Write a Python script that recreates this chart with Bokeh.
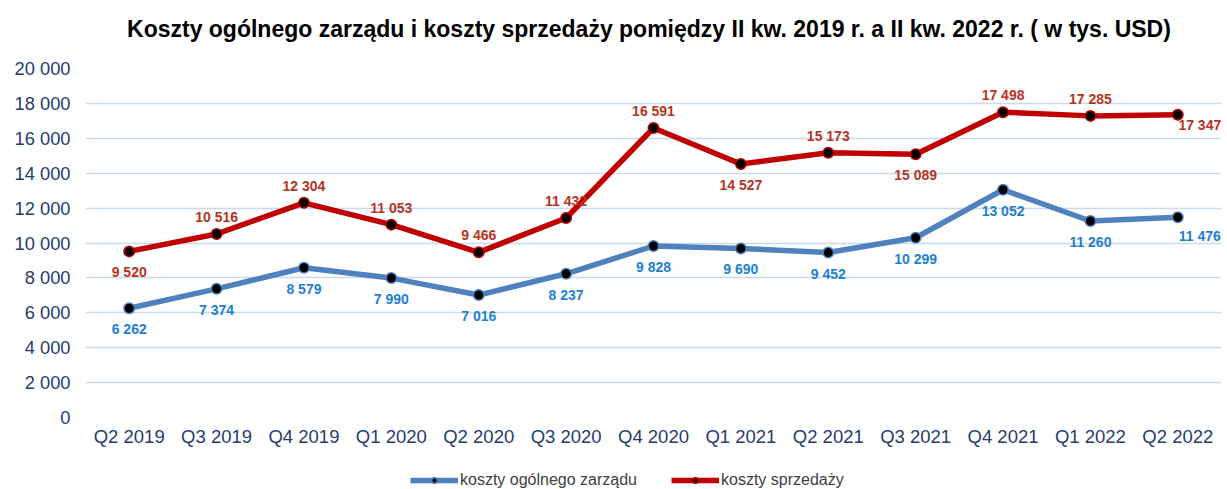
from bokeh.plotting import figure
from bokeh.models import ColumnDataSource, FactorRange, Range1d, Legend, LegendItem, FixedTicker
from bokeh.layouts import column
from bokeh.embed import file_html
from bokeh.resources import INLINE
from bokeh.core.properties import value

categories = ["Q2 2019", "Q3 2019", "Q4 2019", "Q1 2020", "Q2 2020", "Q3 2020", "Q4 2020",
              "Q1 2021", "Q2 2021", "Q3 2021", "Q4 2021", "Q1 2022", "Q2 2022"]
general_admin = [6262, 7374, 8579, 7990, 7016, 8237, 9828, 9690, 9452, 10299, 13052, 11260, 11476]
selling = [9520, 10516, 12304, 11053, 9466, 11432, 16591, 14527, 15173, 15089, 17498, 17285, 17347]
y_ticks = [0, 2000, 4000, 6000, 8000, 10000, 12000, 14000, 16000, 18000, 20000]
series_names = ["koszty ogólnego zarządu", "koszty sprzedaży"]
title_text = "Koszty ogólnego zarządu i koszty sprzedaży pomiędzy II kw. 2019 r. a II kw. 2022 r. ( w tys. USD)"

# label placement (style): a = above, b = below, r / s = right side
selling_place = ["b", "a", "a", "a", "a", "a", "a", "b", "a", "b", "a", "a", "s"]
admin_place = ["b"] * 12 + ["r"]

FONT = "Liberation Sans"
BLUE = "#4f81bd"
RED = "#c00000"
BLUE_TXT = "#1f7fcf"
RED_TXT = "#b5351f"
AXIS_TXT = "#263c6e"

def fmt(v):
    return f"{v:,}".replace(",", " ")

OFFS = {"a": (0, -17), "b": (0, 21), "r": (22, 19), "s": (22, 10)}

def offsets(place):
    return [OFFS[p][0] for p in place], [OFFS[p][1] for p in place]

def blank(fig):
    fig.outline_line_color = None
    fig.xgrid.grid_line_color = None
    fig.ygrid.grid_line_color = None
    fig.background_fill_color = "white"
    fig.border_fill_color = "white"

# header strip with the title
hd = figure(width=1227, height=48, output_backend="svg", toolbar_location=None,
            x_axis_type=None, y_axis_type=None, min_border=0,
            x_range=Range1d(0, 1), y_range=Range1d(0, 48))
blank(hd)
hd.text(x=[0.496], y=[20], text=[title_text], text_font=value(FONT), text_font_size="23px",
        text_font_style="bold", text_color="black", text_align="center", text_baseline="middle")

p = figure(x_range=FactorRange(*categories), y_range=Range1d(0, 20000),
           width=1227, height=410, output_backend="svg", toolbar_location=None,
           min_border_left=85, min_border_right=6, min_border_top=20, min_border_bottom=41)
blank(p)
p.ygrid.grid_line_color = "#c9d9f0"
p.ygrid.grid_line_width = 1.3

p.yaxis.ticker = FixedTicker(ticks=y_ticks)
p.yaxis.major_label_overrides = {t: fmt(t) for t in y_ticks}
for ax in (p.xaxis[0], p.yaxis[0]):
    ax.axis_line_color = None
    ax.major_tick_line_color = None
    ax.minor_tick_line_color = None
    ax.major_label_text_font = FONT
    ax.major_label_text_color = AXIS_TXT
p.yaxis.major_label_text_font_size = "18.3px"
p.yaxis.major_label_standoff = 9
p.xaxis.major_label_text_font_size = "18.5px"
p.xaxis.major_label_standoff = 2

xo_s, yo_s = offsets(selling_place)
xo_a, yo_a = offsets(admin_place)
src_s = ColumnDataSource(dict(x=categories, y=selling, lab=[fmt(v) for v in selling], xo=xo_s, yo=yo_s))
src_a = ColumnDataSource(dict(x=categories, y=general_admin, lab=[fmt(v) for v in general_admin], xo=xo_a, yo=yo_a))

p.line("x", "y", source=src_a, line_color=BLUE, line_width=5.5)
p.scatter("x", "y", source=src_a, size=10.5, fill_color="black", line_color=BLUE, line_width=1.5)
p.line("x", "y", source=src_s, line_color=RED, line_width=5.5)
p.scatter("x", "y", source=src_s, size=10.5, fill_color="black", line_color=RED, line_width=1.5)

p.text("x", "y", text="lab", source=src_a, x_offset="xo", y_offset="yo",
       text_font=value(FONT), text_font_size="14px", text_font_style="bold",
       text_color=BLUE_TXT, text_align="center", text_baseline="middle")
p.text("x", "y", text="lab", source=src_s, x_offset="xo", y_offset="yo",
       text_font=value(FONT), text_font_size="14px", text_font_style="bold",
       text_color=RED_TXT, text_align="center", text_baseline="middle")

# legend strip: a small figure whose renderers share the series data but whose
# y-range lies outside it, so only the legend is visible
lg = figure(width=1227, height=31, output_backend="svg", toolbar_location=None,
            x_axis_type=None, y_axis_type=None, min_border=0,
            x_range=FactorRange(*categories), y_range=Range1d(-2, -1))
blank(lg)
la = lg.line("x", "y", source=src_a, line_color=BLUE, line_width=5.5)
ma = lg.scatter("x", "y", source=src_a, size=9, fill_color="black", line_color=BLUE, line_width=1.5)
ls = lg.line("x", "y", source=src_s, line_color=RED, line_width=5.5)
ms = lg.scatter("x", "y", source=src_s, size=9, fill_color="black", line_color=RED, line_width=1.5)
legend = Legend(items=[LegendItem(label=series_names[0], renderers=[la, ma], index=0),
                       LegendItem(label=series_names[1], renderers=[ls, ms], index=0)],
                orientation="horizontal", location=(325, 0),
                label_text_font=FONT, label_text_font_size="16px", label_text_color="#404040",
                glyph_width=48, glyph_height=14, label_standoff=2, spacing=34,
                border_line_color=None, background_fill_alpha=0, margin=0, padding=0)
lg.add_layout(legend, "center")

open("out.html", "w").write(file_html(column(hd, p, lg, spacing=0), INLINE))
